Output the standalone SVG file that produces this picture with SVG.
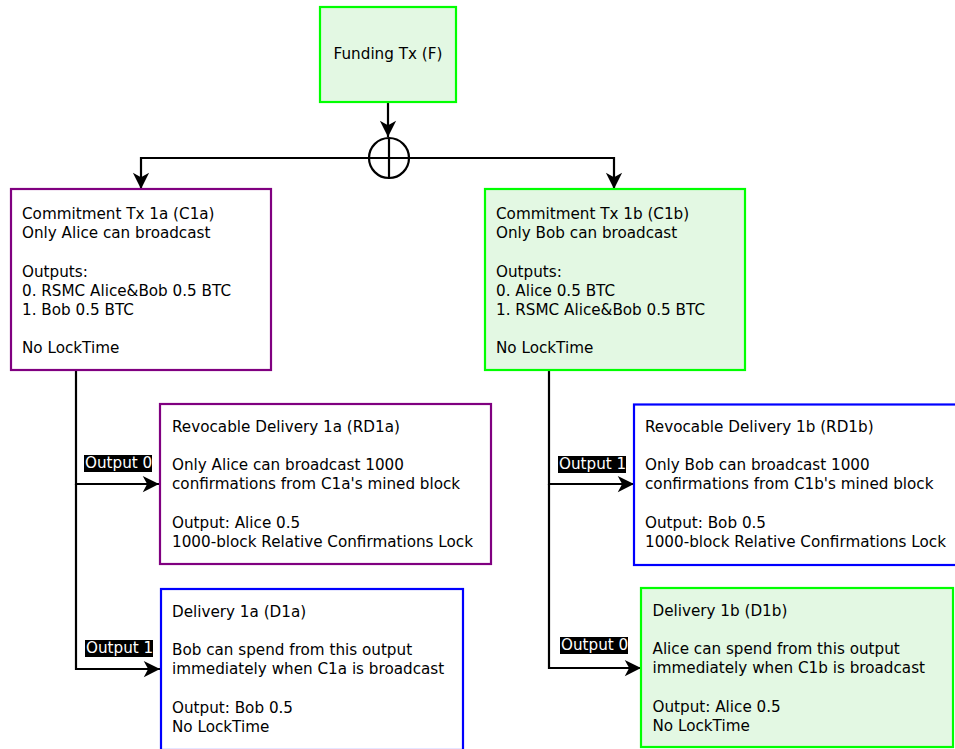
<svg xmlns="http://www.w3.org/2000/svg" width="955" height="749" viewBox="0 0 955 749">
<defs>
<marker id="arr" markerUnits="userSpaceOnUse" markerWidth="20" markerHeight="20" viewBox="-14 -8 16 16" refX="0" refY="0" orient="auto">
<path d="M0,0 L-13,-6.5 L-9.5,0 L-13,6.5 Z" fill="#000"/>
</marker>
<style>
text{font-family:"DejaVu Sans","Liberation Sans",sans-serif;font-size:15.2px;fill:#000}
.g{fill:#E3F8E3;stroke:#00FF00;stroke-width:2.2}
.p{fill:#fff;stroke:#800080;stroke-width:2.2}
.b{fill:#fff;stroke:#0000FF;stroke-width:2.2}
.c{fill:none;stroke:#000;stroke-width:2.2}
.lb{fill:#000}
.lt{fill:#fff}
</style>
</defs>
<rect width="955" height="749" fill="#fff"/>
<g id="connectors">
<path class="c" d="M388,102 V137" marker-end="url(#arr)"/>
<path class="c" d="M389,158 H141 V189" marker-end="url(#arr)"/>
<path class="c" d="M389,158 H614 V189" marker-end="url(#arr)"/>
<path class="c" d="M76,370 V484 H159" marker-end="url(#arr)"/>
<path class="c" d="M76,484 V669 H160" marker-end="url(#arr)"/>
<path class="c" d="M549,370 V484 H634" marker-end="url(#arr)"/>
<path class="c" d="M549,484 V668 H641" marker-end="url(#arr)"/>
<rect class="lb" x="84" y="455" width="68" height="17"/>
<text class="lt" x="85" y="468">Output 0</text>
<rect class="lb" x="85" y="640" width="68" height="17"/>
<text class="lt" x="86" y="653">Output 1</text>
<rect class="lb" x="558" y="456" width="68" height="17"/>
<text class="lt" x="559" y="469">Output 1</text>
<rect class="lb" x="560" y="637" width="68" height="17"/>
<text class="lt" x="561" y="650">Output 0</text>
</g>
<g id="funding">
<rect class="g" x="320" y="7" width="136" height="95"/>
<text x="388" y="59" text-anchor="middle">Funding Tx (F)</text>
</g>
<g id="xor">
<circle cx="389" cy="158" r="20" fill="none" stroke="#000" stroke-width="2.2"/>
<line x1="389" y1="138" x2="389" y2="178" stroke="#000" stroke-width="2.2"/>
</g>
<g id="c1a">
<rect class="p" x="11" y="189" width="260" height="181"/>
<text x="22" y="219"><tspan x="22">Commitment Tx 1a (C1a)</tspan><tspan x="22" dy="19.2">Only Alice can broadcast</tspan><tspan x="22" dy="38.4">Outputs:</tspan><tspan x="22" dy="19.2">0. RSMC Alice&amp;Bob 0.5 BTC</tspan><tspan x="22" dy="19.2">1. Bob 0.5 BTC</tspan><tspan x="22" dy="38.4">No LockTime</tspan></text>
</g>
<g id="c1b">
<rect class="g" x="485" y="189" width="260" height="181"/>
<text x="496" y="219"><tspan x="496">Commitment Tx 1b (C1b)</tspan><tspan x="496" dy="19.2">Only Bob can broadcast</tspan><tspan x="496" dy="38.4">Outputs:</tspan><tspan x="496" dy="19.2">0. Alice 0.5 BTC</tspan><tspan x="496" dy="19.2">1. RSMC Alice&amp;Bob 0.5 BTC</tspan><tspan x="496" dy="38.4">No LockTime</tspan></text>
</g>
<g id="rd1a">
<rect class="p" x="160" y="404" width="331" height="160"/>
<text x="172" y="431.7"><tspan x="172">Revocable Delivery 1a (RD1a)</tspan><tspan x="172" dy="38.4">Only Alice can broadcast 1000</tspan><tspan x="172" dy="19.2">confirmations from C1a's mined block</tspan><tspan x="172" dy="38.4">Output: Alice 0.5</tspan><tspan x="172" dy="19.2">1000-block Relative Confirmations Lock</tspan></text>
</g>
<g id="d1a">
<rect class="b" x="161" y="589" width="302" height="161"/>
<text x="172" y="616.7"><tspan x="172">Delivery 1a (D1a)</tspan><tspan x="172" dy="38.4">Bob can spend from this output</tspan><tspan x="172" dy="19.2">immediately when C1a is broadcast</tspan><tspan x="172" dy="38.4">Output: Bob 0.5</tspan><tspan x="172" dy="19.2">No LockTime</tspan></text>
</g>
<g id="rd1b">
<rect class="b" x="634" y="404.5" width="330" height="160.5"/>
<text x="645" y="431.7"><tspan x="645">Revocable Delivery 1b (RD1b)</tspan><tspan x="645" dy="38.4">Only Bob can broadcast 1000</tspan><tspan x="645" dy="19.2">confirmations from C1b's mined block</tspan><tspan x="645" dy="38.4">Output: Bob 0.5</tspan><tspan x="645" dy="19.2">1000-block Relative Confirmations Lock</tspan></text>
</g>
<g id="d1b">
<rect class="g" x="641" y="588" width="312" height="159"/>
<text x="652.5" y="615.7"><tspan x="652.5">Delivery 1b (D1b)</tspan><tspan x="652.5" dy="38.4">Alice can spend from this output</tspan><tspan x="652.5" dy="19.2">immediately when C1b is broadcast</tspan><tspan x="652.5" dy="38.4">Output: Alice 0.5</tspan><tspan x="652.5" dy="19.2">No LockTime</tspan></text>
</g>
</svg>
